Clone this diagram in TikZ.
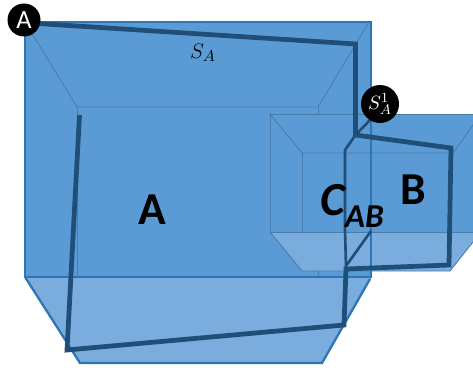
\documentclass[tikz,border=0pt]{standalone}
\usepackage{fontspec}
\usepackage{amsmath}
\setmainfont{Carlito}
\usetikzlibrary{positioning,calc}
\definecolor{myfill}{RGB}{91,155,213}
\definecolor{myfloor}{RGB}{122,173,221}
\definecolor{myedge}{RGB}{46,117,182}
\definecolor{mythin}{RGB}{72,125,172}
\definecolor{mydark}{RGB}{31,78,121}
\tikzset{
  boxedge/.style={myedge, line width=1.3pt},
  innerline/.style={mythin, line width=0.5pt},
  regionpath/.style={mydark, line width=2.7pt, line join=miter},
  overlappath/.style={mydark, line width=1.5pt, line join=miter},
  marker/.style={circle, fill=black, text=white, inner sep=0pt},
  biglabel/.style={font=\fontsize{26}{26}\selectfont\bfseries, text=black}
}

\begin{document}
\begin{tikzpicture}[x=0.02cm, y=-0.02cm]
  \useasboundingbox (0,0) rectangle (473,368);
  % Large box
  \fill[myfill] (25,22) rectangle (372,277);
  \fill[myfloor] (25,277) -- (372,277) -- (322,363) -- (80,363) -- cycle;
  \draw[innerline] (25,22) -- (77,107) -- (318,107) -- (369,22);
  \draw[innerline] (77,107) -- (77,277);
  \draw[innerline] (318,107) -- (318,277);
  \draw[boxedge] (25,277) -- (25,22) -- (372,22);
  \draw[boxedge] (25,277) -- (372,277);
  \draw[boxedge] (25,277) -- (80,363) -- (322,363) -- (370,279);
  % Small box
  \fill[myfill] (270,114) rectangle (473,232);
  \fill[myfloor] (270,232) -- (473,232) -- (473,242) -- (450,271) -- (302,271) -- cycle;
  \draw[innerline] (270,232) -- (270,114) -- (473,114);
  \draw[innerline] (270,114) -- (302,153) -- (453,153) -- (473,125);
  \draw[innerline] (302,153) -- (302,232);
  \draw[innerline] (270,232) -- (473,232);
  \draw[innerline] (270,232) -- (302,271) -- (450,271) -- (473,242);
  % Edge of the large box, in front of the small one
  \draw[boxedge] (371,22) -- (371,277);
  % Corners of the region outlines
  \coordinate (p1) at (30,23);
  \coordinate (p2) at (355.5,44);
  \coordinate (p3) at (355.5,135);
  \coordinate (p4) at (451,148);
  \coordinate (p5) at (449,265);
  \coordinate (p6) at (346,269);
  \coordinate (p7) at (344,325);
  \coordinate (p8) at (67,350);
  \coordinate (p9) at (79.5,115);
  \coordinate (q1) at (345,150);
  \coordinate (q2) at (346,266);
  \coordinate (q3) at (371,231);
  \coordinate (q4) at (371,119);
  % Overlap outline
  \draw[overlappath] (p3) -- (q1) -- (345,230) -- (q2) -- (q3);
  \draw[overlappath] (p3) -- (q4);
  % Region outline
  \draw[regionpath] (p1) -- (p2) -- (p3) -- (p4) -- (p5) -- (p6) -- (p7) -- (p8) -- (p9);
  % Markers
  \node[marker, minimum size=33*0.02cm, font=\fontsize{15}{15}\selectfont] (startA) at (24,20) {A};
  \node[marker, minimum size=38*0.02cm, font=\fontsize{11}{11}\selectfont] (startS) at (380,104) {$S_{A}^{1}$};
  % Labels
  \node[font=\fontsize{13}{13}\selectfont] (labelS) at (203,53) {$S_{A}$};
  \node[biglabel] (labelA) at (152,210) {A};
  \node[biglabel] (labelB) at (413,190) {B};
  \node[font=\fontsize{27}{27}\selectfont\bfseries\itshape, inner sep=0pt] (labelC) at (352,206)
    {C\raisebox{-7pt}{\fontsize{19}{19}\selectfont AB}};
\end{tikzpicture}
\end{document}
